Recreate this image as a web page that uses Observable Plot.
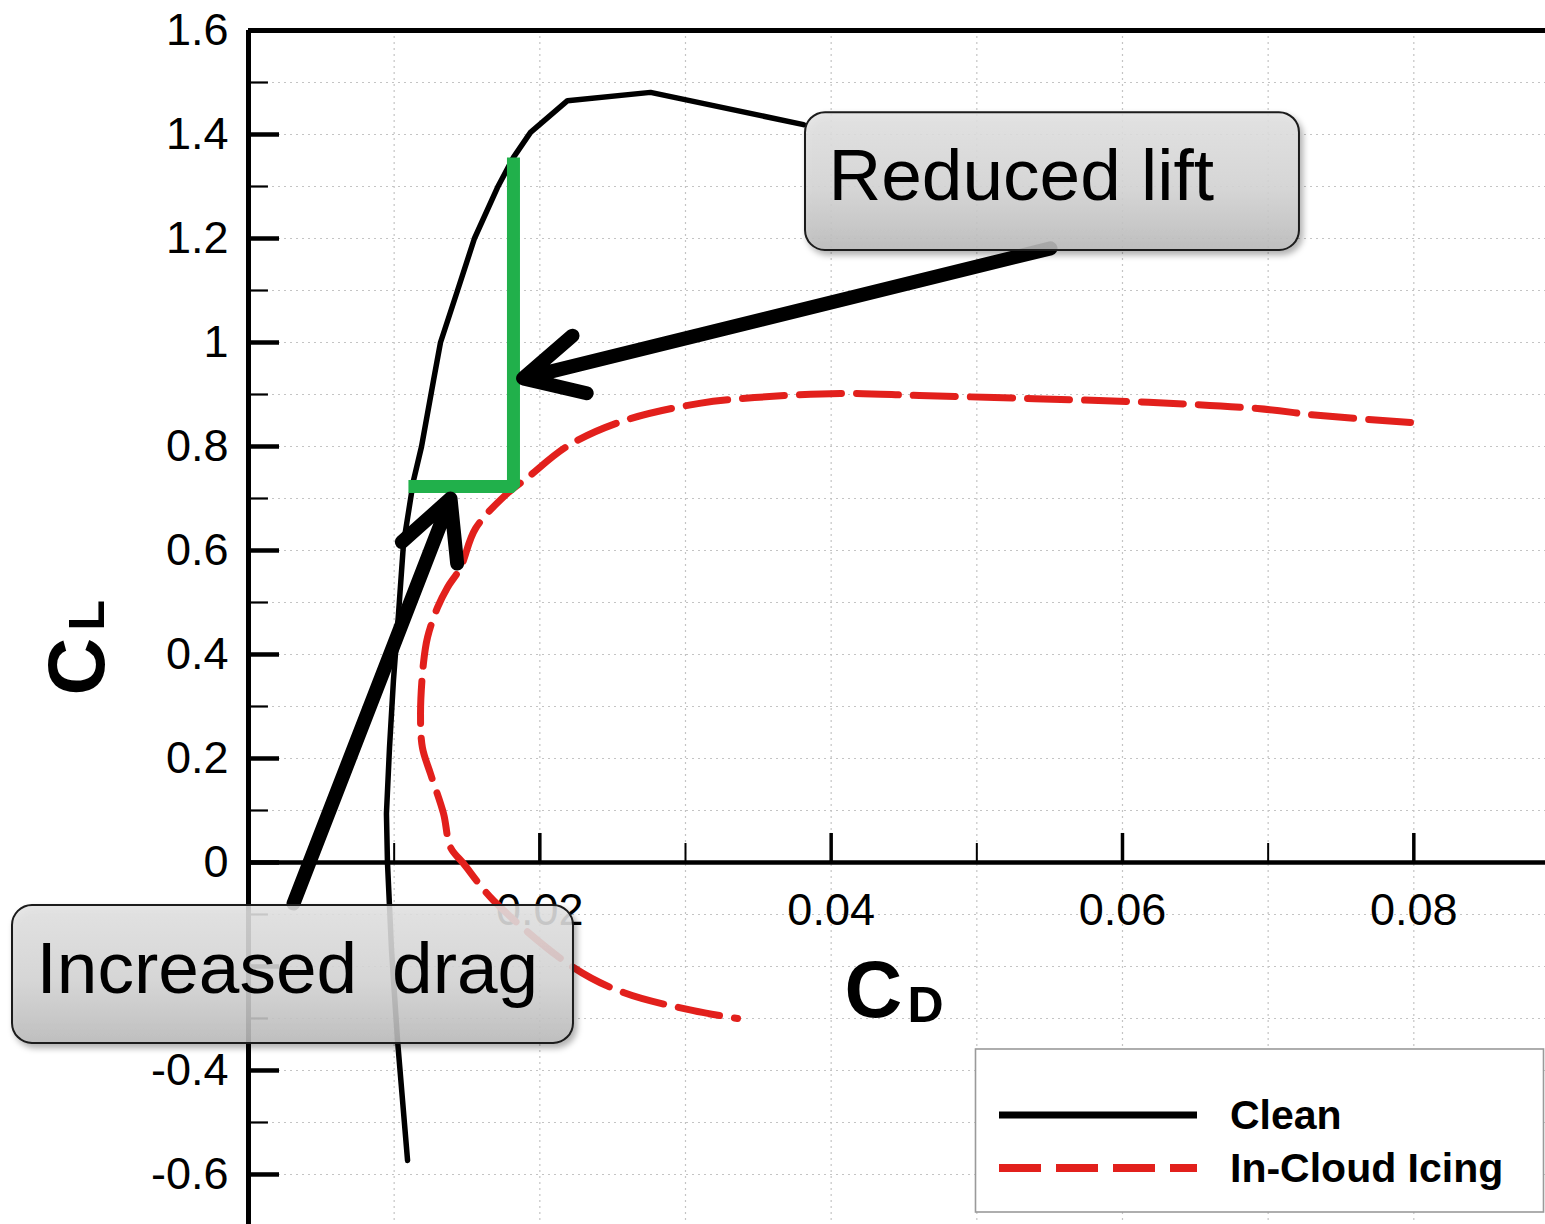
<!DOCTYPE html>
<html>
<head>
<meta charset="utf-8">
<script src="https://cdn.jsdelivr.net/npm/d3@7"></script>
<script src="https://cdn.jsdelivr.net/npm/@observablehq/plot@0.6"></script>
<style>
  html, body { margin: 0; padding: 0; background: #fff; }
  #wrap { position: relative; width: 1545px; height: 1224px; overflow: hidden;
          font-family: "Liberation Sans", Arial, Helvetica, sans-serif; }
  #wrap > svg { position: absolute; left: 0; top: 0; }
</style>
</head>
<body>
<div id="wrap"></div>
<script>
// ---------------- data ----------------
// Clean airfoil drag polar (CD, CL)
const cleanCD = [0.01092, 0.01023, 0.00982, 0.00954, 0.00947, 0.00968, 0.00995, 0.0103, 0.01064,
                 0.01133, 0.01188, 0.0127, 0.01318, 0.01435, 0.01551, 0.01709, 0.01819, 0.01936,
                 0.0219, 0.0276, 0.0381];
const cleanCL = [-0.573, -0.342, -0.169, 0.0, 0.094, 0.221, 0.35, 0.479, 0.613,
                 0.735, 0.8, 0.927, 1.0, 1.1, 1.2, 1.298, 1.356, 1.404,
                 1.465, 1.481, 1.419];
// In-cloud icing drag polar (CD, CL)
const icingCD = [0.07977, 0.07339, 0.06927, 0.06178, 0.05396, 0.04606, 0.04064, 0.03474, 0.03096,
                 0.02581, 0.02197, 0.01915, 0.01778, 0.01558, 0.01455, 0.01366, 0.01297, 0.01229,
                 0.01201, 0.01181, 0.01194, 0.01249, 0.01339, 0.01387, 0.01476, 0.01682, 0.02231,
                 0.02574, 0.03055, 0.03357];
const icingCL = [0.846, 0.86, 0.873, 0.885, 0.892, 0.898, 0.902, 0.894, 0.883,
                 0.85, 0.802, 0.74, 0.71, 0.642, 0.567, 0.529, 0.49, 0.433,
                 0.383, 0.287, 0.221, 0.171, 0.094, 0.029, -0.002, -0.073, -0.202,
                 -0.25, -0.285, -0.30];
// Green "delta" markers (increased drag / reduced lift)
const deltaCD = [0.01098, 0.01819, 0.01819];
const deltaCL = [0.723, 0.723, 1.356];
// Annotation arrows (tail -> tip)
const arrowCD1 = [0.05506, 0.00309];
const arrowCL1 = [1.181, -0.079];
const arrowCD2 = [0.01885, 0.01387];
const arrowCL2 = [0.931, 0.700];
// Callout boxes
const calloutText = ["Reduced lift", "Increased\u00a0\u2009drag"];
const calloutCD1 = [0.03824, -0.0162];
const calloutCD2 = [0.07215, 0.02231];
const calloutCL1 = [1.177, -0.348];
const calloutCL2 = [1.442, -0.0827];
const calloutTextCD = [0.03982, -0.01455];
const calloutTextCL = [1.319, -0.2058];
// Axes
const xMajor = [0.02, 0.04, 0.06, 0.08];
const xMajorLabels = ["0.02", "0.04", "0.06", "0.08"];
const xMinor = [0.01, 0.03, 0.05, 0.07];
const xGrid = [0.01, 0.02, 0.03, 0.04, 0.05, 0.06, 0.07, 0.08];
const yMajor = [-0.6, -0.4, -0.2, 0, 0.2, 0.4, 0.6, 0.8, 1, 1.2, 1.4, 1.6];
// the -0.2 label is hidden behind the "Increased drag" callout in the original
const yLabelValues = [-0.6, -0.4, 0, 0.2, 0.4, 0.6, 0.8, 1, 1.2, 1.4, 1.6];
const yLabelTexts = ["-0.6", "-0.4", "0", "0.2", "0.4", "0.6", "0.8", "1", "1.2", "1.4", "1.6"];
const yMinor = [-0.5, -0.3, -0.1, 0.1, 0.3, 0.5, 0.7, 0.9, 1.1, 1.3, 1.5];
const yGrid = [-0.6, -0.5, -0.4, -0.3, -0.2, -0.1, 0, 0.1, 0.2, 0.3, 0.4, 0.5, 0.6, 0.7, 0.8, 0.9,
               1.0, 1.1, 1.2, 1.3, 1.4, 1.5];
const xDomain = [0, 0.08904];
const yDomain = [-0.6962, 1.6];
// Legend
const legendNames = ["Clean", "In-Cloud Icing"];
const legendColors = ["#000000", "#e2201c"];
const legendDash = ["none", "42,15"];

// ---------------- tables ----------------
const clean = cleanCD.map((x, i) => ({x, y: cleanCL[i]}));
const icing = icingCD.map((x, i) => ({x, y: icingCL[i]}));
const delta = deltaCD.map((x, i) => ({x, y: deltaCL[i]}));
const arrows = arrowCD1.map((x1, i) => ({x1, y1: arrowCL1[i], x2: arrowCD2[i], y2: arrowCL2[i]}));
const callouts = calloutText.map((t, i) => ({
  text: t, x1: calloutCD1[i], x2: calloutCD2[i], y1: calloutCL1[i], y2: calloutCL2[i],
  tx: calloutTextCD[i], ty: calloutTextCL[i]
}));
const yLab = yLabelValues.map((v, i) => ({v, t: yLabelTexts[i]}));
const xLab = xMajor.map((v, i) => ({v, t: xMajorLabels[i]}));

const RED = "#e2201c";
const GREEN = "#21b04b";
const FONT = "Liberation Sans, Arial, Helvetica, sans-serif";
const yTickMajor = 0.00213, yTickMinor = 0.00137; // tick lengths in CD units
const xTickMajor = 0.0558, xTickMinor = 0.0365;   // tick lengths in CL units

const chart = Plot.plot({
  width: 1545,
  height: 1224,
  marginLeft: 248,
  marginTop: 30,
  marginRight: 0,
  marginBottom: 0,
  x: {domain: xDomain, axis: null},
  y: {domain: yDomain, axis: null},
  style: {fontFamily: FONT, background: "transparent", overflow: "visible"},
  marks: [
    // grid
    Plot.ruleY(yGrid, {y: d => d, stroke: "#c4c4c4", strokeWidth: 1.2, strokeDasharray: "2,4"}),
    Plot.ruleX(xGrid, {x: d => d, stroke: "#c4c4c4", strokeWidth: 1.2, strokeDasharray: "2,4"}),
    // ticks
    Plot.ruleY(yMajor, {y: d => d, x1: 0, x2: yTickMajor, stroke: "#000", strokeWidth: 4.5}),
    Plot.ruleY(yMinor, {y: d => d, x1: 0, x2: yTickMinor, stroke: "#000", strokeWidth: 2.2}),
    Plot.ruleX(xMajor, {x: d => d, y1: 0, y2: xTickMajor, stroke: "#000", strokeWidth: 3.5}),
    Plot.ruleX(xMinor, {x: d => d, y1: 0, y2: xTickMinor, stroke: "#000", strokeWidth: 2}),
    // axis lines / frame
    Plot.ruleX([0], {stroke: "#000", strokeWidth: 5}),
    Plot.ruleY([0], {stroke: "#000", strokeWidth: 4.5}),
    Plot.ruleY([1.6], {stroke: "#000", strokeWidth: 5}),
    // tick labels
    Plot.text(yLab, {x: 0, y: "v", text: "t", textAnchor: "end", dx: -20, lineAnchor: "middle",
                     fontSize: 45, fill: "#000"}),
    Plot.text(xLab, {x: "v", y: 0, text: "t", textAnchor: "middle", dy: 48, lineAnchor: "middle",
                     fontSize: 45, fill: "#000"}),
    // axis titles: C_D and C_L
    Plot.text(["C"], {x: 0.04091, y: -0.298, text: d => d, textAnchor: "start", lineAnchor: "bottom",
                      fontSize: 80, fontWeight: "bold"}),
    Plot.text(["D"], {x: 0.04524, y: -0.3077, text: d => d, textAnchor: "start", lineAnchor: "bottom",
                      fontSize: 50, fontWeight: "bold"}),
    Plot.text(["C"], {x: -0.00995, y: 0.3212, text: d => d, textAnchor: "start", lineAnchor: "bottom",
                      rotate: -90, fontSize: 80, fontWeight: "bold"}),
    Plot.text(["L"], {x: -0.00995, y: 0.446, text: d => d, textAnchor: "start", lineAnchor: "bottom",
                      rotate: -90, fontSize: 50, fontWeight: "bold"}),
    // curves
    Plot.line(clean, {x: "x", y: "y", stroke: "#000", strokeWidth: 5.5, curve: "linear",
                      strokeLinejoin: "round"}),
    Plot.line(icing, {x: "x", y: "y", stroke: RED, strokeWidth: 7, curve: "catmull-rom",
                      strokeDasharray: "42,15"}),
    // green delta markers
    Plot.line(delta, {x: "x", y: "y", stroke: GREEN, strokeWidth: 13, strokeLinejoin: "miter",
                      strokeLinecap: "butt"}),
    // arrows
    Plot.arrow(arrows, {x1: "x1", y1: "y1", x2: "x2", y2: "y2", stroke: "#000", strokeWidth: 14,
                        headLength: 7, headAngle: 54, strokeLinecap: "round", strokeLinejoin: "miter"}),
    // callout boxes
    Plot.rect(callouts, {x1: "x1", x2: "x2", y1: "y1", y2: "y2", rx: 20, ry: 20,
                         fill: "url(#boxGrad)", fillOpacity: 0.86, stroke: "#1a1a1a", strokeWidth: 2}),
    Plot.text(callouts, {x: "tx", y: "ty", text: "text", textAnchor: "start", lineAnchor: "middle",
                         fontSize: 73, fill: "#000"})
  ]
});

// gradient + shadow definitions for callout boxes
const svgSel = d3.select(chart);
const defs = svgSel.insert("defs", ":first-child");
const grad = defs.append("linearGradient").attr("id", "boxGrad")
  .attr("x1", 0).attr("y1", 0).attr("x2", 0).attr("y2", 1);
grad.append("stop").attr("offset", "0%").attr("stop-color", "#e4e4e4");
grad.append("stop").attr("offset", "55%").attr("stop-color", "#d6d6d6");
grad.append("stop").attr("offset", "100%").attr("stop-color", "#bcbcbc");
const filt = defs.append("filter").attr("id", "shadow")
  .attr("x", "-10%").attr("y", "-10%").attr("width", "130%").attr("height", "140%");
filt.append("feDropShadow").attr("dx", 3).attr("dy", 4).attr("stdDeviation", 3)
  .attr("flood-color", "#000").attr("flood-opacity", 0.35);
svgSel.selectAll('g[aria-label="rect"]').attr("filter", "url(#shadow)");

const wrap = document.getElementById("wrap");
wrap.appendChild(chart);

// ---------------- legend (inside plot, lower right) ----------------
const leg = d3.select(wrap).append("svg")
  .attr("width", 1545).attr("height", 1224)
  .style("pointer-events", "none");
leg.append("rect").attr("x", 975.5).attr("y", 1049).attr("width", 568).attr("height", 163)
  .attr("fill", "#fff").attr("stroke", "#9a9a9a").attr("stroke-width", 1.6);
legendNames.forEach((name, i) => {
  const cy = 1115 + i * 53;
  leg.append("line").attr("x1", 999).attr("x2", 1197).attr("y1", cy).attr("y2", cy)
    .attr("stroke", legendColors[i]).attr("stroke-width", i === 0 ? 7 : 8)
    .attr("stroke-dasharray", legendDash[i]);
  leg.append("text").attr("x", 1230).attr("y", cy).attr("dy", "0.35em")
    .attr("font-family", FONT).attr("font-weight", "bold").attr("font-size", 41)
    .attr("fill", "#000").text(name);
});
</script>
</body>
</html>
